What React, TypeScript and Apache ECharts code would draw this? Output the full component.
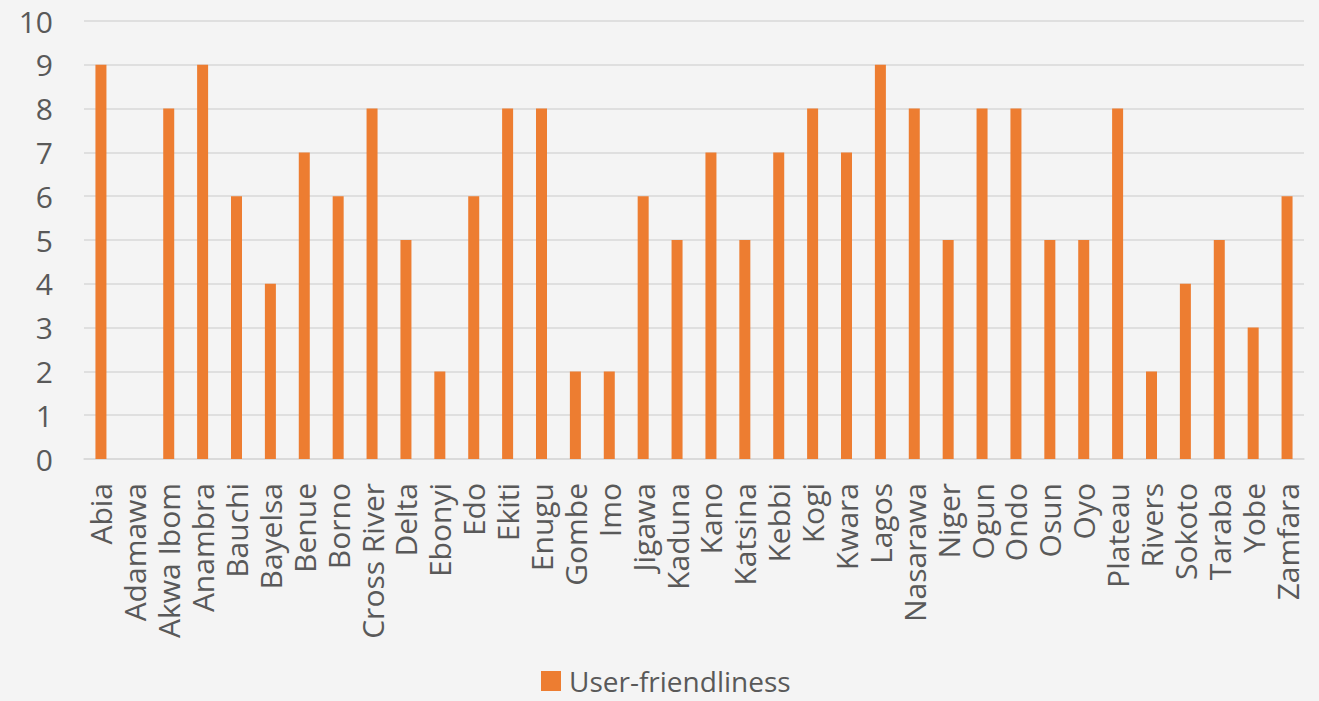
import React, { useEffect, useRef } from "react";
import * as echarts from "echarts";

const categories = [
  "Abia", "Adamawa", "Akwa Ibom", "Anambra", "Bauchi", "Bayelsa", "Benue", "Borno",
  "Cross River", "Delta", "Ebonyi", "Edo", "Ekiti", "Enugu", "Gombe", "Imo",
  "Jigawa", "Kaduna", "Kano", "Katsina", "Kebbi", "Kogi", "Kwara", "Lagos",
  "Nasarawa", "Niger", "Ogun", "Ondo", "Osun", "Oyo", "Plateau", "Rivers",
  "Sokoto", "Taraba", "Yobe", "Zamfara",
];

const userFriendliness = [
  9, 0, 8, 9, 6, 4, 7, 6,
  8, 5, 2, 6, 8, 8, 2, 2,
  6, 5, 7, 5, 7, 8, 7, 9,
  8, 5, 8, 8, 5, 5, 8, 2,
  4, 5, 3, 6,
];

const seriesName = "User-friendliness";
const yMin = 0;
const yMax = 10;
const yInterval = 1;

const FONT = "'Open Sans', 'Noto Sans', sans-serif";
const TEXT = "#595959";

export default function App() {
  const ref = useRef<HTMLDivElement>(null);
  useEffect(() => {
    document.body.style.margin = "0";
    const chart = echarts.init(ref.current!, null, { renderer: "svg" });
    chart.setOption({
      animation: false,
      backgroundColor: "#F4F4F4",
      textStyle: { fontFamily: FONT },
      grid: { left: 84, right: 15, top: 21, bottom: 242, containLabel: false },
      legend: {
        data: [seriesName],
        bottom: 6,
        left: 541,
        icon: "rect",
        itemWidth: 20,
        itemHeight: 20,
        itemGap: 10,
        padding: 0,
        textStyle: {
          color: TEXT,
          fontSize: 28,
          fontFamily: FONT,
          padding: [0, 0, 0, 3],
        },
      },
      xAxis: {
        type: "category",
        data: categories,
        axisLine: { show: true, lineStyle: { color: "#D9D9D9", width: 1.5 } },
        axisTick: { show: false },
        axisLabel: {
          rotate: 90,
          interval: 0,
          margin: 24,
          color: TEXT,
          fontSize: 30,
          fontFamily: FONT,
        },
      },
      yAxis: {
        type: "value",
        min: yMin,
        max: yMax,
        interval: yInterval,
        axisLine: { show: false },
        axisTick: { show: false },
        splitLine: { lineStyle: { color: "#D9D9D9", width: 1.5 } },
        axisLabel: { color: TEXT, fontSize: 30, margin: 31, fontFamily: FONT },
      },
      series: [
        {
          name: seriesName,
          type: "bar",
          data: userFriendliness,
          barWidth: 11,
          itemStyle: { color: "#ED7D31" },
        },
      ],
    });
    return () => chart.dispose();
  }, []);
  return <div ref={ref} style={{ width: 1319, height: 701 }} />;
}
